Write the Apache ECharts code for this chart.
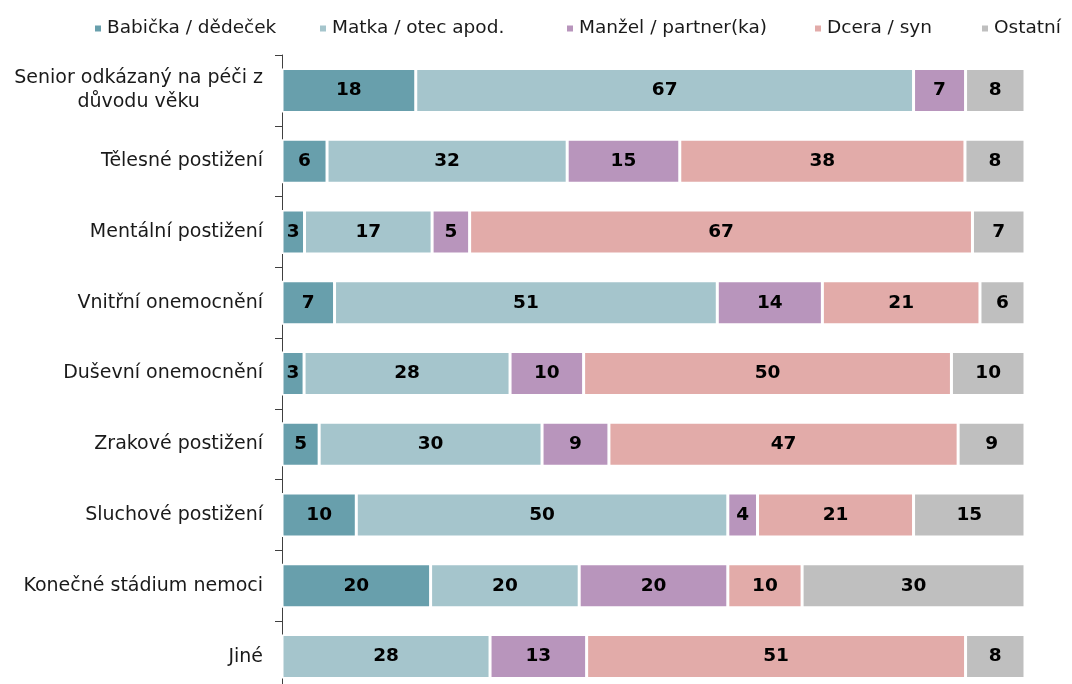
<!DOCTYPE html>
<html>
<head>
<meta charset="utf-8">
<script src="https://cdn.jsdelivr.net/npm/echarts@6/dist/echarts.min.js"></script>
<style>
  html, body { margin: 0; padding: 0; background: #fff; overflow: hidden; }
  #chart { width: 1072px; height: 700px; }
</style>
</head>
<body>
<div id="chart"></div>
<script>
// kategorie (odshora dolů)
const categories = [
  'Senior odkázaný na péči z\ndůvodu věku',
  'Tělesné postižení',
  'Mentální postižení',
  'Vnitřní onemocnění',
  'Duševní onemocnění',
  'Zrakové postižení',
  'Sluchové postižení',
  'Konečné stádium nemoci',
  'Jiné'
]

const seriesNames = ['Babička / dědeček', 'Matka / otec apod.', 'Manžel / partner(ka)', 'Dcera / syn', 'Ostatní']
const colors = ['#689fac', '#a5c5cc', '#b895bc', '#e2aba9', '#bfbfbf']

// hodnoty v % (popisky v grafu)
const babicka = [18, 6, 3, 7, 3, 5, 10, 20, null]
const matka = [67, 32, 17, 51, 28, 30, 50, 20, 28]
const manzel = [7, 15, 5, 14, 10, 9, 4, 20, 13]
const dcera = [null, 38, 67, 21, 50, 47, 21, 10, 51]
const ostatni = [8, 8, 7, 6, 10, 9, 15, 30, 8]

const rows = [babicka, matka, manzel, dcera, ostatni]

// 100% skládaný graf - součet řádku = 100
const sums = categories.map((c, i) => rows.reduce((s, r) => s + (r[i] || 0), 0))

// pozice položek legendy
const legendLeft = [88, 313, 560, 808, 975]

const chart = echarts.init(document.getElementById('chart'))

const option = {
  animation: false,
  color: colors,
  textStyle: { fontFamily: 'DejaVu Sans' },
  legend: seriesNames.map((name, i) => ({
    top: 14,
    left: legendLeft[i],
    itemWidth: 8,
    itemHeight: 8,
    icon: 'rect',
    textStyle: { fontSize: 18.5, color: '#1a1a1a', fontFamily: 'DejaVu Sans' },
    data: [name]
  })),
  grid: {
    left: 282,
    right: 47,
    top: 55,
    height: 637
  },
  xAxis: {
    type: 'value',
    min: 0,
    max: 100,
    show: false
  },
  yAxis: {
    type: 'category',
    inverse: true,
    data: categories,
    axisLine: { show: true, lineStyle: { color: '#404040', width: 1 } },
    axisTick: { show: true, length: 7, lineStyle: { color: '#404040' } },
    axisLabel: {
      margin: 19,
      fontSize: 19,
      color: '#1a1a1a',
      fontFamily: 'DejaVu Sans',
      align: 'right',
      formatter: function (v) {
        if (v.indexOf('\n') >= 0) {
          return v.split('\n').map(l => '{c|' + l + '}').join('\n')
        }
        return v
      },
      rich: {
        c: { align: 'center', fontSize: 19, color: '#1a1a1a', fontFamily: 'DejaVu Sans', lineHeight: 24 }
      }
    }
  },
  series: rows.map((r, si) => ({
    name: seriesNames[si],
    type: 'bar',
    stack: 'total',
    barWidth: 44,
    itemStyle: { borderColor: '#fff', borderWidth: 1.5 },
    label: {
      show: true,
      position: 'inside',
      color: '#000',
      fontWeight: 'bold',
      fontSize: 18.5,
      fontFamily: 'DejaVu Sans',
      formatter: function (p) {
        const v = r[p.dataIndex]
        return v == null ? '' : String(v)
      }
    },
    data: r.map((v, i) => v == null ? '-' : v / sums[i] * 100)
  }))
}

chart.setOption(option)
</script>
</body>
</html>
